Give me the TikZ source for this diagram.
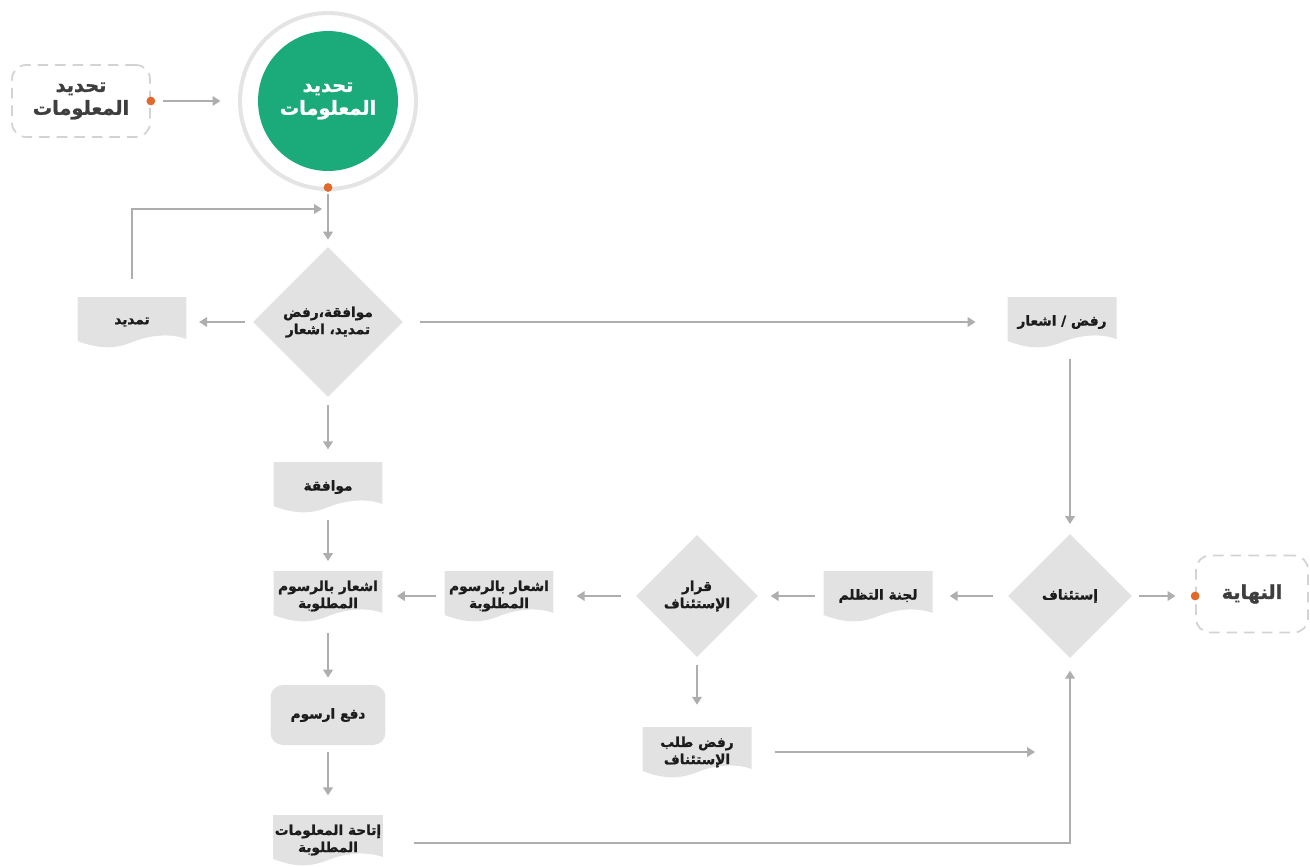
\documentclass[tikz,border=0pt]{standalone}
\usepackage{fontspec}
\usepackage{tikz}
\usetikzlibrary{shapes.geometric}
\usetikzlibrary{arrows.meta}
\newfontfamily\arabicfont[Script=Arabic, BoldFeatures={FakeBold=1.2}]{DejaVu Sans}
\TeXXeTstate=1
\newcommand{\ar}[1]{\beginR #1\endR}
\definecolor{flowgreen}{RGB}{27,170,122}
\definecolor{boxgrey}{RGB}{226,226,226}
\definecolor{linegrey}{RGB}{174,174,174}
\definecolor{ringgrey}{RGB}{228,228,228}
\definecolor{dashgrey}{RGB}{211,211,211}
\definecolor{dotorange}{RGB}{224,106,42}
\definecolor{textdark}{RGB}{28,28,28}
\tikzset{
	flow/.style={draw=linegrey, line width=0.85pt, -{Triangle[length=4.5pt,width=5.5pt]}, shorten <=4.5pt, shorten >=7pt},
	doc/.style={rectangle, minimum width=2.18cm, minimum height=1cm, inner sep=1pt, align=center, text=textdark,
		font=\arabicfont\bfseries\fontsize{7.8}{9.8}\selectfont,
		path picture={
			\coordinate (dsw) at (path picture bounding box.south west);
			\coordinate (dse) at (path picture bounding box.south east);
			\fill[boxgrey] ([yshift=0.12cm]dsw)
				.. controls ([xshift=0.45cm,yshift=-0.05cm]dsw) and ([xshift=0.75cm,yshift=-0.04cm]dsw) .. ([xshift=1.1cm,yshift=0.1cm]dsw)
				.. controls ([xshift=1.45cm,yshift=0.24cm]dsw) and ([xshift=1.85cm,yshift=0.28cm]dsw) .. ([yshift=0.16cm]dse)
				-- (path picture bounding box.north east) -- (path picture bounding box.north west) -- cycle;}},
	decision/.style={diamond, aspect=1, fill=boxgrey, inner sep=0pt, align=center, text=textdark,
		font=\arabicfont\bfseries\fontsize{7.8}{9.8}\selectfont},
	process/.style={rectangle, rounded corners=7pt, fill=boxgrey, minimum width=2.3cm, minimum height=1.2cm, align=center, text=textdark,
		font=\arabicfont\bfseries\fontsize{7.8}{9.8}\selectfont},
	terminal/.style={rectangle, rounded corners=8pt, draw=dashgrey, line width=1pt, dash pattern=on 6pt off 4pt, align=center, text=textdark!85,
		font=\arabicfont\bfseries\fontsize{11}{13}\selectfont},
	dot/.style={circle, fill=dotorange, inner sep=0pt, minimum size=5pt}
}
\begin{document}
\begin{tikzpicture}[x=0.02cm, y=-0.02cm]
	\useasboundingbox (0,0) rectangle (1310,866);
	\node[terminal, minimum width=2.76cm, minimum height=1.44cm] (begin) at (81,101) {\ar{تحديد}\\\ar{المعلومات}};
	\node[dot] (begindot) at (begin.east) {};
	\node[circle, draw=ringgrey, line width=2.3pt, minimum size=3.52cm] (ring) at (328,101) {};
	\node[circle, fill=flowgreen, minimum size=2.8cm, align=center, text=white, font=\arabicfont\bfseries\fontsize{11}{13}\selectfont] (start) at (ring.center) {\ar{تحديد}\\\ar{المعلومات}};
	\node[dot] (ringdot) at ([yshift=2pt]ring.south) {};
	\node[decision, minimum size=3cm] (choice) at (328,322) {\ar{موافقة،رفض}\\\ar{تمديد، اشعار}};
	\node[doc] (extend) at (132,322) {\ar{تمديد}};
	\node[doc] (reject) at (1062,322) {\ar{رفض / اشعار}};
	\node[doc] (approve) at (328,487) {\ar{موافقة}};
	\node[doc] (feenote) at (328,596) {\ar{اشعار بالرسوم}\\\ar{المطلوبة}};
	\node[process] (pay) at (328,715) {\ar{دفع ارسوم}};
	\node[doc] (provide) at (328,840) {\ar{إتاحة المعلومات}\\\ar{المطلوبة}};
	\node[decision, minimum size=2.48cm] (appeal) at (1070,596) {\ar{إستئناف}};
	\node[terminal, minimum width=2.24cm, minimum height=1.54cm] (finish) at (1252,594) {\ar{النهاية}};
	\node[dot] (finishdot) at (finish.west |- appeal) {};
	\node[doc] (committee) at (878,596) {\ar{لجنة التظلم}};
	\node[decision, minimum size=2.44cm] (verdict) at (697,596) {\ar{قرار}\\\ar{الإستئناف}};
	\node[doc] (feenote2) at (499,596) {\ar{اشعار بالرسوم}\\\ar{المطلوبة}};
	\node[doc] (refuse) at (697,752) {\ar{رفض طلب}\\\ar{الإستئناف}};
	\coordinate (loopend) at (328,209);
	\coordinate (refuseend) at (1035,752);

	\draw[flow, shorten <=4pt, shorten >=10pt] (begindot) -- (ring);
	\draw[flow, shorten <=1pt, shorten >=4pt] (ringdot) -- (choice);
	\draw[flow, shorten <=10pt, shorten >=3.4pt] (extend.north) |- (loopend);
	\draw[flow] (choice) -- (extend);
	\draw[flow, shorten <=9.6pt, shorten >=18pt] (choice) -- (reject);
	\draw[flow] (choice) -- (approve);
	\draw[flow, shorten >=5.5pt] (approve) -- (feenote);
	\draw[flow, shorten <=6.8pt, shorten >=4pt] (feenote) -- (pay);
	\draw[flow, shorten <=4pt, shorten >=11pt] (pay) -- (provide);
	\draw[flow, shorten <=6.8pt, shorten >=5.5pt] (reject.south -| appeal.north) -- (appeal.north);
	\draw[flow, shorten <=3.5pt, shorten >=8.5pt] (appeal) -- (finishdot);
	\draw[flow, shorten <=8.5pt, shorten >=9.6pt] (appeal) -- (committee);
	\draw[flow] (committee) -- (verdict);
	\draw[flow, shorten <=8.5pt, shorten >=13pt] (verdict) -- (feenote2);
	\draw[flow, shorten >=8pt] (feenote2) -- (feenote);
	\draw[flow, shorten >=12.5pt] (verdict) -- (refuse);
	\draw[flow, shorten <=13pt, shorten >=0pt] (refuse) -- (refuseend);
	\draw[flow, shorten <=17.5pt] ([yshift=-1.7pt]provide.east) -| (appeal.south);
\end{tikzpicture}
\end{document}
